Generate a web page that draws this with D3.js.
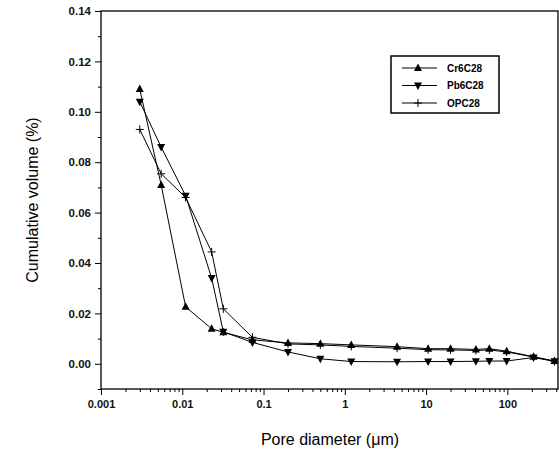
<!DOCTYPE html>
<html>
<head>
<meta charset="utf-8">
<script src="https://cdn.jsdelivr.net/npm/d3@7"></script>
<style>
	body { margin: 0; background: #fff; }
	svg { display: block; font-family: "Liberation Sans", Arial, sans-serif; }
</style>
</head>
<body>
<svg id="chart" width="559" height="454"></svg>
<script>
// pore diameters (um), shared by the three series
var poreDiameter = [0.003, 0.0055, 0.011, 0.023, 0.032, 0.073, 0.2, 0.5, 1.2, 4.4, 10.6, 20, 41, 60, 98, 210, 380];
var cr6c28 = [0.109, 0.071, 0.0226, 0.0139, 0.0125, 0.0095, 0.0083, 0.008, 0.0075, 0.0068, 0.006, 0.006, 0.0057, 0.006, 0.005, 0.0028, 0.0011];
var pb6c28 = [0.104, 0.086, 0.0667, 0.034, 0.0127, 0.0085, 0.0047, 0.002, 0.0009, 0.0008, 0.0009, 0.0009, 0.001, 0.0011, 0.0011, 0.0025, 0.001];
var opc28 = [0.093, 0.0754, 0.066, 0.0444, 0.0218, 0.0105, 0.0079, 0.0075, 0.0069, 0.0062, 0.0056, 0.0055, 0.0053, 0.0055, 0.0047, 0.0027, 0.001];
var seriesNames = ['Cr6C28', 'Pb6C28', 'OPC28'];
var seriesMarkers = ['up', 'down', 'plus'];
var xTicks = [0.001, 0.01, 0.1, 1, 10, 100];
var xTickLabels = ['0.001', '0.01', '0.1', '1', '10', '100'];
var yTicks = [0.00, 0.02, 0.04, 0.06, 0.08, 0.10, 0.12, 0.14];

const svg = d3.select('#chart');
const margin = {top: 11, right: 1, bottom: 65, left: 101};
const width = 559, height = 454;

const x = d3.scaleLog()
	.domain([0.001, 420])
	.range([margin.left, width - margin.right]);

const y = d3.scaleLinear()
	.domain([-0.01, 0.14])
	.range([height - margin.bottom, margin.top]);

// frame
svg.append('rect')
	.attr('x', margin.left).attr('y', margin.top)
	.attr('width', width - margin.right - margin.left)
	.attr('height', height - margin.bottom - margin.top)
	.attr('fill', 'none').attr('stroke', '#000').attr('stroke-width', 1.3);

// minor x ticks
var minorX = [];
for (var e = -3; e <= 2; e++) {
	for (var m = 2; m <= 9; m++) {
		var v = m * Math.pow(10, e);
		if (v <= 420) minorX.push(v);
	}
}
svg.append('g')
	.attr('transform', `translate(0, ${y(-0.01)})`)
	.call(d3.axisBottom(x).tickValues(minorX).tickSize(3).tickFormat(''))
	.call(g => g.select('.domain').remove());

const xAxis = g => g
	.attr('transform', `translate(0, ${y(-0.01)})`)
	.call(d3.axisBottom(x).tickValues(xTicks).tickSize(6).tickPadding(5)
		.tickFormat((d, i) => xTickLabels[i]))
	.call(g => g.select('.domain').remove())
	.call(g => g.selectAll('text').style('font-size', '11px').style('font-weight', 'bold').attr('fill', '#111'));
svg.append('g').call(xAxis);

// minor y ticks
svg.append('g')
	.attr('transform', `translate(${margin.left}, 0)`)
	.call(d3.axisLeft(y).tickValues(d3.range(-0.01, 0.14, 0.02)).tickSize(3).tickFormat(''))
	.call(g => g.select('.domain').remove());

const yAxis = g => g
	.attr('transform', `translate(${margin.left}, 0)`)
	.call(d3.axisLeft(y).tickValues(yTicks).tickSize(6).tickPadding(4).tickFormat(d3.format('.2f')))
	.call(g => g.select('.domain').remove())
	.call(g => g.selectAll('text').style('font-size', '11.5px').style('font-weight', 'bold').attr('fill', '#111'));
svg.append('g').call(yAxis);

// axis titles
svg.append('text')
	.attr('x', 330).attr('y', 445)
	.attr('text-anchor', 'middle').style('font-size', '16px')
	.text('Pore diameter (\u03bcm)');

svg.append('text')
	.attr('transform', 'translate(38, 200) rotate(-90)')
	.attr('text-anchor', 'middle').style('font-size', '16px')
	.text('Cumulative volume (%)');

function drawMarker(g, type, cx, cy) {
	if (type == 'up') {
		g.append('path').attr('d', `M${cx},${cy - 4.5}L${cx + 4},${cy + 3}L${cx - 4},${cy + 3}Z`).attr('fill', '#000');
	} else if (type == 'down') {
		g.append('path').attr('d', `M${cx},${cy + 4.5}L${cx + 4},${cy - 3}L${cx - 4},${cy - 3}Z`).attr('fill', '#000');
	} else {
		g.append('path').attr('d', `M${cx - 4},${cy}H${cx + 4}M${cx},${cy - 4}V${cy + 4}`)
			.attr('stroke', '#000').attr('stroke-width', 1);
	}
}

const line = d3.line().x(d => x(d.x)).y(d => y(d.y));
const seriesValues = [cr6c28, pb6c28, opc28];

seriesValues.forEach((vals, s) => {
	const data = poreDiameter.map((p, i) => ({x: p, y: vals[i]}));
	svg.append('path').datum(data)
		.attr('d', line)
		.attr('fill', 'none').attr('stroke', '#000').attr('stroke-width', 1);
	const g = svg.append('g');
	data.forEach(d => drawMarker(g, seriesMarkers[s], x(d.x), y(d.y)));
});

// legend
const legend = svg.append('g');
legend.append('rect')
	.attr('x', 391).attr('y', 56).attr('width', 108).attr('height', 57)
	.attr('fill', '#fff').attr('stroke', '#000').attr('stroke-width', 1.5);
seriesNames.forEach((name, i) => {
	const ly = 68 + i * 17.5;
	legend.append('line').attr('x1', 402).attr('x2', 437).attr('y1', ly).attr('y2', ly)
		.attr('stroke', '#000').attr('stroke-width', 1);
	drawMarker(legend, seriesMarkers[i], 418, ly);
	legend.append('text').attr('x', 447).attr('y', ly + 3.5)
		.style('font-size', '10px').style('font-weight', 'bold').text(name);
});
</script>
</body>
</html>
